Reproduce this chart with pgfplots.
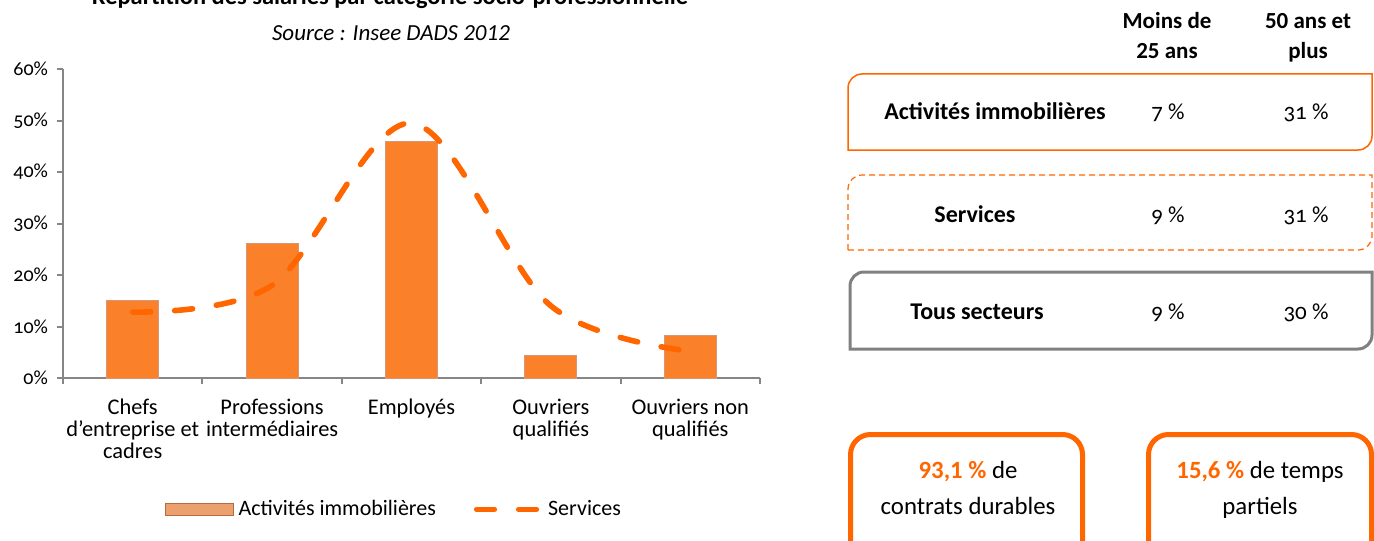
\documentclass[border=0pt]{standalone}
\usepackage{pgfplots}
\pgfplotsset{compat=1.18}
\usepackage{fontspec}
\setmainfont{Carlito}
\newfontfamily\numfont[Numbers=OldStyle]{Carlito}
\definecolor{lineor}{RGB}{255,102,0}
\definecolor{barfill}{RGB}{251,128,42}
\definecolor{bardark}{RGB}{200,98,40}
\definecolor{baredge}{RGB}{214,150,120}
\definecolor{legbar}{RGB}{236,160,110}
\definecolor{axgray}{RGB}{134,134,134}
\definecolor{boxgray}{RGB}{128,128,128}
\begin{document}
\begin{tikzpicture}[x=0.5pt,y=-0.5pt]
\path[use as bounding box] (0,0) rectangle (1374,540);
% titles
\node[anchor=base, font=\bfseries\fontsize{12.2}{14}\selectfont, inner sep=0pt] at (390,5) {Répartition des salariés par catégorie socio-professionnelle};
\node[anchor=base, font=\itshape\fontsize{11.5}{13}\selectfont, inner sep=0pt] at (391,41) {Source : Insee DADS 2012};

\begin{axis}[
  at={(31.5pt,-189pt)}, anchor=south west,
  scale only axis, width=348.5pt, height=154.5pt,
  xmin=-0.5, xmax=4.5, ymin=0, ymax=60,
  axis lines*=left,
  axis line style={draw=axgray, line width=1pt, -},
  tick align=outside,
  tick style={draw=axgray, line width=1pt},
  major tick length=3pt, minor tick length=3pt,
  ytick={0,10,20,30,40,50,60},
  yticklabels={0\%,10\%,20\%,30\%,40\%,50\%,60\%},
  yticklabel style={font=\numfont\fontsize{10}{11}\selectfont, xshift=-1pt},
  xtick={0,1,2,3,4},
  major x tick style={draw=none},
  minor xtick={-0.5,0.5,1.5,2.5,3.5,4.5},
  xticklabels={{Chefs\\d'entreprise et\\cadres},{Professions\\intermédiaires},{Employés},{Ouvriers\\qualifiés},{Ouvriers non\\qualifiés}},
  xticklabel style={font=\fontsize{11.2}{11}\selectfont, align=center, yshift=-4pt, text depth=0pt},
  legend columns=2,
  legend style={at={(0.476,-0.425)}, anchor=center, draw=none, fill=none,
     font=\fontsize{11}{12}\selectfont,
     /tikz/every odd column/.append style={column sep=0.5pt},
     /tikz/every even column/.append style={column sep=17pt}},
  clip=false,
]
\addplot[ybar, bar width=26pt, draw=baredge, line width=0.5pt, fill=barfill,
  legend image code/.code={\draw[draw=bardark!70!gray, fill=legbar] (0pt,-3pt) rectangle (34pt,3pt);}]
  coordinates {(0,15.1) (1,26.2) (2,46.0) (3,4.3) (4,8.2)};
\addlegendentry{Activités immobilières}
\addplot[smooth, tension=0.55, draw=lineor, line width=2.8pt, line cap=round,
  dash pattern=on 9pt off 12pt,
  legend image code/.code={\draw[lineor, line width=2.6pt, line cap=round, dash pattern=on 9pt off 12pt] (0pt,0pt) -- (32pt,0pt);}]
  coordinates {(0,12.8) (1,18.0) (2,49.5) (3,14.0) (4,5.2)};
\addlegendentry{Services}
\end{axis}

% right-side boxes (explicit pt)
\draw[lineor, line width=0.75pt] (424pt,-75pt) -- (424pt,-44pt) arc[start angle=180,end angle=90,radius=7pt] -- (686pt,-37pt) -- (686pt,-68pt) arc[start angle=0,end angle=-90,radius=7pt] -- cycle;
\draw[lineor, line width=0.6pt, dash pattern=on 3pt off 2pt] (424pt,-125pt) -- (424pt,-94.5pt) arc[start angle=180,end angle=90,radius=7pt] -- (686pt,-87.5pt) -- (686pt,-118pt) arc[start angle=0,end angle=-90,radius=7pt] -- cycle;
\draw[boxgray, line width=1.5pt] (425pt,-174.5pt) -- (425pt,-143pt) arc[start angle=180,end angle=90,radius=7pt] -- (686pt,-136pt) -- (686pt,-167.5pt) arc[start angle=0,end angle=-90,radius=7pt] -- cycle;
\draw[lineor, line width=2.5pt, rounded corners=10pt] (425.25pt,-217.25pt) rectangle (541.25pt,-290pt);
\draw[lineor, line width=2.5pt, rounded corners=10pt] (574.25pt,-217.25pt) rectangle (685.75pt,-290pt);

% header
\node[font=\bfseries\fontsize{11.5}{15}\selectfont, anchor=mid] at (1167,24) {Moins de};
\node[font=\bfseries\fontsize{11.5}{15}\selectfont, anchor=mid] at (1167,54) {25 ans};
\node[font=\bfseries\fontsize{11.5}{15}\selectfont, anchor=mid] at (1308,24) {50 ans et};
\node[font=\bfseries\fontsize{11.5}{15}\selectfont, anchor=mid] at (1308,54) {plus};
% rows
\node[font=\bfseries\fontsize{12}{13}\selectfont, anchor=mid] at (995,115) {Activités immobilières};
\node[font=\numfont\fontsize{11.5}{13}\selectfont, anchor=mid] at (1168,115) {7 \%};
\node[font=\numfont\fontsize{11.5}{13}\selectfont, anchor=mid] at (1306,115) {31 \%};
\node[font=\bfseries\fontsize{12}{13}\selectfont, anchor=mid] at (975,218) {Services};
\node[font=\numfont\fontsize{11.5}{13}\selectfont, anchor=mid] at (1168,218) {9 \%};
\node[font=\numfont\fontsize{11.5}{13}\selectfont, anchor=mid] at (1306,218) {31 \%};
\node[font=\bfseries\fontsize{12}{13}\selectfont, anchor=mid] at (977,315) {Tous secteurs};
\node[font=\numfont\fontsize{11.5}{13}\selectfont, anchor=mid] at (1168,315) {9 \%};
\node[font=\numfont\fontsize{11.5}{13}\selectfont, anchor=mid] at (1306,315) {30 \%};
% bottom boxes text
\node[font=\fontsize{12.4}{14}\selectfont, anchor=mid] at (968,474) {\textcolor{lineor}{\textbf{93,1 \%}} de};
\node[font=\fontsize{12.4}{14}\selectfont, anchor=mid] at (968,510) {contrats durables};
\node[font=\fontsize{12.4}{14}\selectfont, anchor=mid] at (1260,474) {\textcolor{lineor}{\textbf{15,6 \%}} de temps};
\node[font=\fontsize{12.4}{14}\selectfont, anchor=mid] at (1260,510) {partiels};
\end{tikzpicture}
\end{document}
